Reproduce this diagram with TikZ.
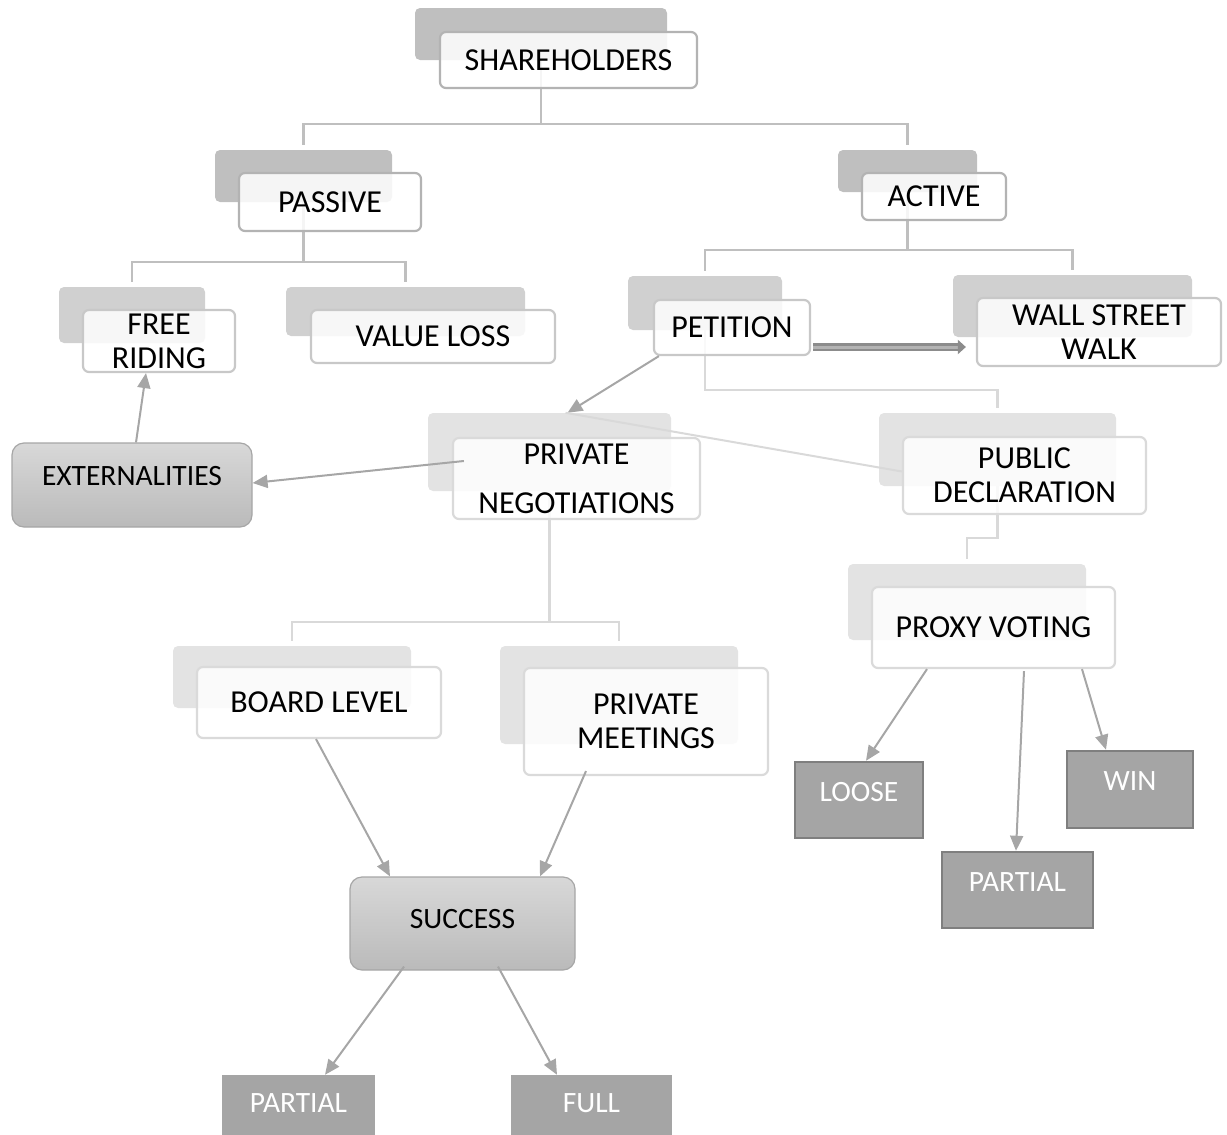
\documentclass[tikz,border=0pt]{standalone}
\usepackage{fontspec}
\setmainfont{Carlito}
\usepackage{tikz}
\usetikzlibrary{arrows.meta}

\definecolor{shadeA}{HTML}{BFBFBF}
\definecolor{shadeB}{HTML}{D0D0D0}
\definecolor{shadeC}{HTML}{E3E3E3}
\definecolor{lineA}{HTML}{BFBFBF}
\definecolor{lineB}{HTML}{D9D9D9}
\definecolor{edgeA}{HTML}{B3B3B3}
\definecolor{edgeB}{HTML}{C8C8C8}
\definecolor{edgeC}{HTML}{DADADA}
\definecolor{arrowgray}{HTML}{A6A6A6}
\definecolor{boxgray}{HTML}{A5A5A5}
\definecolor{boxedge}{HTML}{7F7F7F}
\definecolor{gradtop}{HTML}{D8D8D8}
\definecolor{gradbot}{HTML}{BABABA}

\begin{document}
\begin{tikzpicture}[
  x=1pt, y=-1pt,
  font=\fontsize{32}{34}\selectfont,
  backcard/.style={fill=#1, rounded corners=5pt, inner sep=0pt},
  card/.style={draw=#1, fill=white, fill opacity=0.85, text opacity=1,
               rounded corners=6pt, line width=2.2pt, inner sep=0pt, align=center},
  grad/.style={draw=arrowgray, line width=1.2pt, top color=gradtop, bottom color=gradbot,
               rounded corners=12pt, inner sep=0pt, font=\fontsize{29.5}{34}\selectfont},
  result/.style={fill=boxgray, text=white, inner sep=0pt, text depth=16pt,
                 font=\fontsize{29.5}{34}\selectfont},
  branch/.style={draw=#1, line width=2.2pt, shorten >=5pt},
  link/.style={draw=arrowgray, line width=2pt, -{Triangle[length=15pt,width=13pt]}}
]
\useasboundingbox (0,0) rectangle (1227,1135);

% back cards
\node[backcard=shadeA, minimum width=252pt, minimum height=52pt] (shS) at (541,34) {};
\node[backcard=shadeA, minimum width=177pt, minimum height=52pt] (pasS) at (303.5,176) {};
\node[backcard=shadeA, minimum width=139pt, minimum height=42pt] (actS) at (907.5,171) {};
\node[backcard=shadeB, minimum width=146pt, minimum height=56pt] (frS) at (132,315) {};
\node[backcard=shadeB, minimum width=239pt, minimum height=49pt] (vlS) at (405.5,311.5) {};
\node[backcard=shadeB, minimum width=154pt, minimum height=54pt] (petS) at (705,303) {};
\node[backcard=shadeB, minimum width=239pt, minimum height=62pt] (wswS) at (1072.5,306) {};
\node[backcard=shadeC, minimum width=243pt, minimum height=78pt] (pnS) at (549.5,452) {};
\node[backcard=shadeC, minimum width=237pt, minimum height=73pt] (pdS) at (997.5,449.5) {};
\node[backcard=shadeC, minimum width=238pt, minimum height=76pt] (pxS) at (967,602) {};
\node[backcard=shadeC, minimum width=238pt, minimum height=62pt] (blS) at (292,677) {};
\node[backcard=shadeC, minimum width=238pt, minimum height=98pt] (pmS) at (619,695) {};

% tree
\draw[branch=lineA] (shS.south) -- +(0,64) -| (pasS.north);
\draw[branch=lineA] (shS.south) -- +(0,64) -| (actS.north);
\draw[branch=lineA] (pasS.south) -- +(0,60) -| (frS.north);
\draw[branch=lineA] (pasS.south) -- +(0,60) -| (vlS.north);
\draw[branch=lineA] (actS.south) -- +(0,58) -| (petS.north);
\draw[branch=lineA] (actS.south) -- +(0,58) -| (wswS.north);
\draw[branch=lineB] (petS.south) -- +(0,60) -| (pdS.north);
\draw[branch=lineB] (pnS.south) -- +(0,131) -| (blS.north);
\draw[branch=lineB] (pnS.south) -- +(0,131) -| (pmS.north);
\draw[branch=lineB] (pdS.south) -- +(0,52) -| (pxS.north);

% front cards
\node[card=edgeA, minimum width=257pt, minimum height=56pt] (sh) at (568.5,60) {SHAREHOLDERS};
\node[card=edgeA, minimum width=182pt, minimum height=58pt] (pas) at (330,202) {PASSIVE};
\node[card=edgeA, minimum width=144pt, minimum height=47pt] (act) at (934,196.5) {ACTIVE};
\node[card=edgeB, minimum width=152pt, minimum height=62pt] (fr) at (159,341) {FREE\\RIDING};
\node[card=edgeB, minimum width=244pt, minimum height=53pt] (vl) at (433,336.5) {VALUE LOSS};
\node[card=edgeB, minimum width=156pt, minimum height=55pt] (pet) at (732,327.5) {PETITION};
\node[card=edgeB, minimum width=244pt, minimum height=68pt] (wsw) at (1099,332) {WALL STREET\\WALK};
\node[card=edgeC, minimum width=247pt, minimum height=81pt] (pn) at (576.5,478.5) {PRIVATE\\[15pt]NEGOTIATIONS};
\node[card=edgeC, minimum width=243pt, minimum height=77pt] (pd) at (1024.5,475.5) {PUBLIC\\DECLARATION};
\node[card=edgeC, minimum width=243pt, minimum height=81pt] (px) at (993.5,627.5) {PROXY VOTING};
\node[card=edgeC, minimum width=244pt, minimum height=71pt] (bl) at (319,702.5) {BOARD LEVEL};
\node[card=edgeC, minimum width=244pt, minimum height=107pt] (pm) at (646,721.5) {PRIVATE\\MEETINGS};

\node[grad, minimum width=240pt, minimum height=84pt, text depth=18pt] (ext) at (132,485) {EXTERNALITIES};
\node[grad, minimum width=225pt, minimum height=93pt, text depth=9pt] (suc) at (462.5,923.5) {SUCCESS};

\node[result, draw=boxedge, line width=2.5pt, minimum width=128pt, minimum height=76pt] (lo) at (859,800) {LOOSE};
\node[result, draw=boxedge, line width=2.5pt, minimum width=126pt, minimum height=77pt, text depth=17pt] (win) at (1130,789.5) {WIN};
\node[result, draw=boxedge, line width=2.5pt, minimum width=151pt, minimum height=76pt] (pa2) at (1017.5,890) {PARTIAL};
\node[result, minimum width=153pt, minimum height=70pt, text depth=14pt] (pa1) at (298.5,1110) {PARTIAL};
\node[result, minimum width=161pt, minimum height=70pt, text depth=14pt] (full) at (591.5,1110) {FULL};

% arrows
\draw[link] ([xshift=4pt]ext.north) -- ([xshift=-13pt]fr.south);
\draw[link] ([xshift=12pt,yshift=17.5pt]pn.west) -- ([yshift=2pt]ext.east);
\draw[link] ([xshift=6pt]pet.south west) -- ([xshift=18pt]pnS.north);
\draw[draw=lineB, line width=2pt] ([xshift=16pt]pnS.north) -- ([yshift=4pt]pd.west);
\draw[draw=boxedge!90, double=arrowgray!85, double distance=3pt, line width=2.5pt,
      -{Triangle[length=8pt,width=14pt]}]
  ([xshift=2pt,yshift=-19.5pt]pet.east) -- ([xshift=-10pt,yshift=-15pt]wsw.west);
\draw[link] ([xshift=-3pt]bl.south) -- ([xshift=-72.5pt]suc.north);
\draw[link] ([xshift=-60pt,yshift=5pt]pm.south) -- ([xshift=77.5pt]suc.north);
\draw[link] ([xshift=-58.5pt,yshift=4pt]suc.south) -- ([xshift=26.5pt]pa1.north);
\draw[link] ([xshift=35.5pt,yshift=4pt]suc.south) -- ([xshift=-34.5pt]full.north);
\draw[link] ([xshift=-66.5pt]px.south) -- ([xshift=7pt]lo.north);
\draw[link] ([xshift=30.5pt,yshift=-2pt]px.south) -- ([xshift=-1.5pt]pa2.north);
\draw[link] ([xshift=88.5pt]px.south) -- ([xshift=-24pt]win.north);
\end{tikzpicture}
\end{document}
